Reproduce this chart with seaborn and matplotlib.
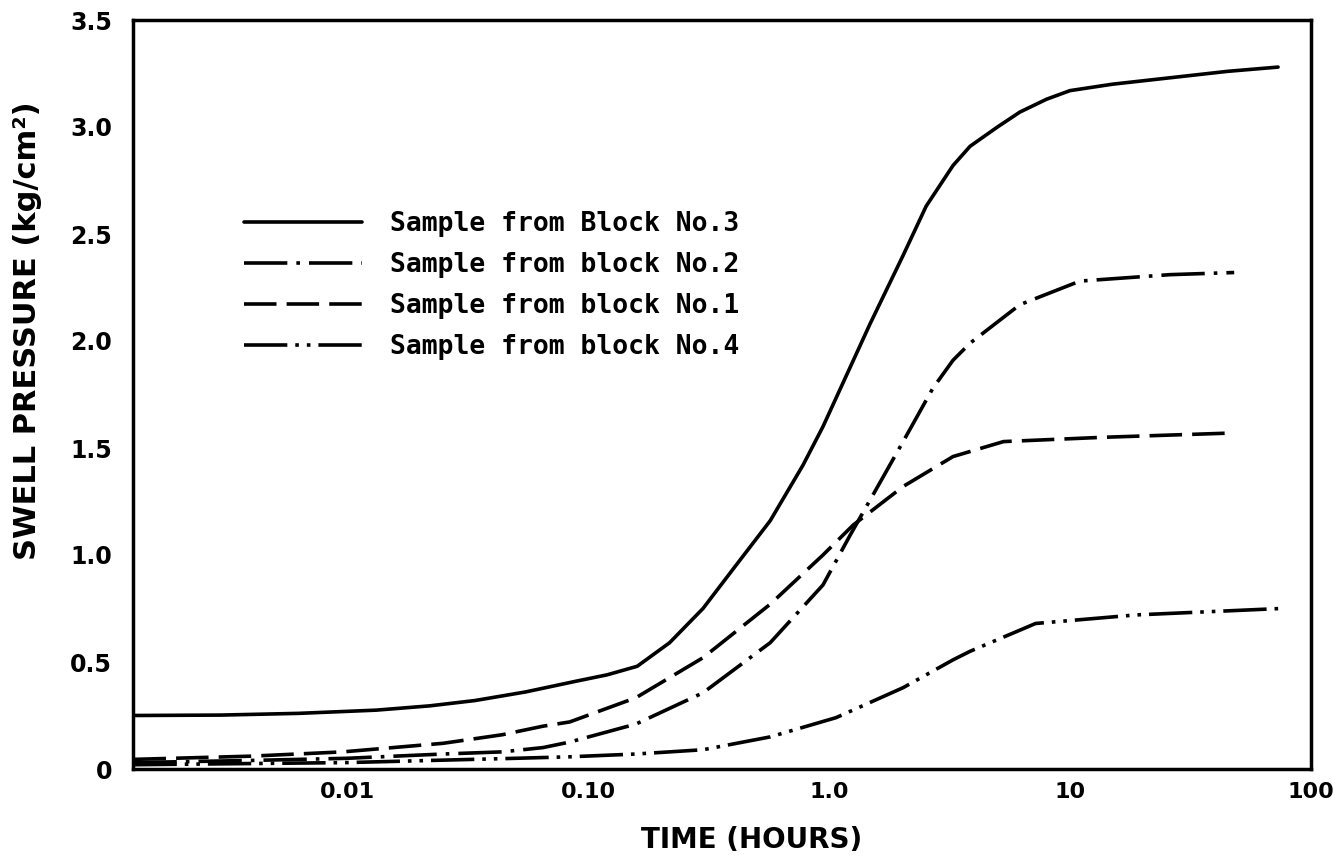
import matplotlib
matplotlib.use("Agg")
import matplotlib.pyplot as plt
from matplotlib.ticker import NullLocator
import numpy as np
import pandas as pd
import seaborn as sns

# ---------------- data ----------------
series_names = ["Sample from Block No.3", "Sample from block No.2",
                "Sample from block No.1", "Sample from block No.4"]

t_block3 = [0.0013, 0.003, 0.0063, 0.0132, 0.022, 0.034, 0.055, 0.089, 0.12, 0.16,
            0.218, 0.30, 0.41, 0.57, 0.78, 0.944, 1.48, 2.03, 2.53, 3.27, 3.85,
            5.0, 6.2, 8.0, 10, 15, 26, 45, 73]
p_block3 = [0.25, 0.252, 0.26, 0.275, 0.295, 0.32, 0.36, 0.41, 0.44, 0.48,
            0.59, 0.75, 0.95, 1.16, 1.42, 1.60, 2.08, 2.40, 2.63, 2.82, 2.91,
            3.00, 3.07, 3.13, 3.17, 3.20, 3.23, 3.26, 3.28]

t_block2 = [0.0013, 0.004, 0.01, 0.025, 0.044, 0.065, 0.084, 0.158, 0.30, 0.57,
            0.944, 1.22, 1.63, 2.03, 2.7, 3.27, 3.85, 6.2, 11, 26, 48]
p_block2 = [0.03, 0.04, 0.05, 0.07, 0.08, 0.10, 0.126, 0.21, 0.356, 0.59,
            0.86, 1.09, 1.34, 1.53, 1.78, 1.91, 1.99, 2.17, 2.28, 2.31, 2.32]

t_block1 = [0.0013, 0.004, 0.0096, 0.025, 0.044, 0.065, 0.084, 0.158, 0.30, 0.57,
            0.944, 1.26, 2.03, 3.27, 5.3, 13.7, 47]
p_block1 = [0.045, 0.06, 0.08, 0.12, 0.16, 0.20, 0.22, 0.333, 0.52, 0.77,
            1.00, 1.14, 1.32, 1.46, 1.53, 1.55, 1.57]

t_block4 = [0.0013, 0.01, 0.05, 0.084, 0.158, 0.30, 0.57, 1.07, 2.03, 3.27, 3.85,
            7.2, 18.8, 75]
p_block4 = [0.02, 0.03, 0.05, 0.057, 0.07, 0.09, 0.15, 0.24, 0.38, 0.51, 0.55,
            0.68, 0.72, 0.75]

x_ticks = [0.01, 0.1, 1, 10, 100]
x_tick_labels = ["0.01", "0.10", "1.0", "10", "100"]
y_ticks = [0, 0.5, 1.0, 1.5, 2.0, 2.5, 3.0, 3.5]
y_tick_labels = ["0", "0.5", "1.0", "1.5", "2.0", "2.5", "3.0", "3.5"]

# ---------------- build table ----------------
frames = []
for name, t, p in zip(series_names,
                      [t_block3, t_block2, t_block1, t_block4],
                      [p_block3, p_block2, p_block1, p_block4]):
    frames.append(pd.DataFrame({"time": t, "pressure": p, "sample": name}))
df = pd.concat(frames, ignore_index=True)

sns.set_theme(style="white")
plt.rcParams["font.family"] = ["DejaVu Sans"]
plt.rcParams["text.color"] = "black"

fig = plt.figure(figsize=(13.33, 8.55), dpi=100)
ax = fig.add_axes([133 / 1333, 1 - 769 / 855, 1178 / 1333, 749 / 855])

dash_map = {
    "Sample from Block No.3": "",
    "Sample from block No.2": (12, 2.5, 1, 2.5),
    "Sample from block No.1": (9, 2.8),
    "Sample from block No.4": (12, 2.2, 1, 2.2, 1, 2.2),
}

sns.lineplot(data=df, x="time", y="pressure", style="sample",
             style_order=series_names, dashes=dash_map, color="black",
             linewidth=2.6, estimator=None, sort=False, ax=ax, legend=True)

ax.set_xscale("log")
ax.set_xlim(0.001294, 100)
ax.set_ylim(0, 3.5)
ax.set_xticks(x_ticks)
ax.set_xticklabels(x_tick_labels)
ax.xaxis.set_minor_locator(NullLocator())
ax.set_yticks(y_ticks)
ax.set_yticklabels(y_tick_labels)

for lab in ax.get_xticklabels():
    lab.set_fontweight("bold")
    lab.set_fontsize(16)
    lab.set_color("black")
for lab in ax.get_yticklabels():
    lab.set_fontweight("bold")
    lab.set_fontsize(17)
    lab.set_color("black")

ax.tick_params(axis="both", which="major", direction="in", length=12, width=1.6,
               color="black")
ax.tick_params(axis="y", pad=15)
ax.tick_params(axis="x", pad=9)

# hide tick marks that sit on the spines; longer tick at 2.5
yt = ax.yaxis.get_major_ticks()
yt[0].tick1line.set_visible(False)
yt[-1].tick1line.set_visible(False)
yt[5].tick1line.set_markersize(20)

for sp in ax.spines.values():
    sp.set_visible(True)
    sp.set_color("black")
    sp.set_linewidth(2.5)

ax.set_xlabel("TIME (HOURS)", fontsize=20, fontweight="bold", color="black")
ax.set_ylabel("SWELL PRESSURE (kg/cm²)", fontsize=22, fontweight="bold", color="black")
ax.xaxis.set_label_coords(0.525, -0.076)
ax.yaxis.set_label_coords(-0.077, 0.585)

handles, labels = ax.get_legend_handles_labels()
for h in handles:
    h.set_linewidth(2.6)
    h.set_color("black")
leg = ax.legend(handles, labels, loc="upper left", bbox_to_anchor=(0.094, 0.745),
                frameon=False, borderpad=0, borderaxespad=0, handlelength=4.5,
                handletextpad=1.05, labelspacing=0.57, labelcolor="black",
                prop={"family": "DejaVu Sans Mono", "weight": "bold", "size": 19})

fig.savefig("out.png", dpi=100, facecolor="white")
